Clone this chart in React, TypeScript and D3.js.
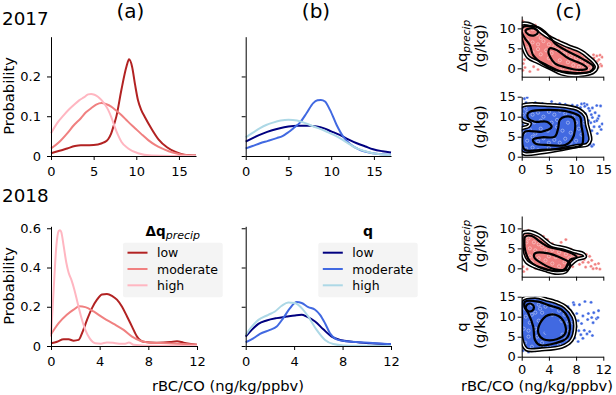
import React, { useEffect, useRef } from "react";
import * as d3 from "d3";

type Pt = [number, number];

// ---- (a)/(b) KDE curves, x = rBC/CO, y = probability ----
const dq17Low: Pt[] = [[0,0.007],[1,0.013],[1.9,0.019],[2.8,0.025],[3.5,0.027],[4.5,0.027],[5.5,0.029],[6.2,0.034],[6.7,0.042],[7.06,0.057],[7.4,0.08],[7.66,0.099],[8.25,0.166],[8.85,0.225],[9.15,0.243],[9.5,0.225],[9.85,0.18],[10.2,0.14],[10.6,0.115],[11,0.098],[11.8,0.068],[12.6,0.042],[13.6,0.022],[14.6,0.01],[15.6,0.003],[17,0.001]];
const dq17Mod: Pt[] = [[0,0.019],[1,0.036],[1.9,0.057],[2.7,0.078],[3.5,0.095],[4.1,0.11],[4.7,0.12],[5.3,0.129],[5.9,0.133],[6.5,0.13],[7.06,0.124],[7.6,0.115],[8.25,0.103],[9,0.087],[9.85,0.07],[10.6,0.055],[11.4,0.04],[12.2,0.028],[13,0.019],[13.8,0.012],[14.6,0.007],[15.5,0.003],[17,0.001]];
const dq17High: Pt[] = [[0,0.057],[0.7,0.082],[1.5,0.103],[2.1,0.117],[2.7,0.129],[3.3,0.14],[3.9,0.148],[4.36,0.155],[4.7,0.156],[5.1,0.154],[5.5,0.149],[5.9,0.141],[6.3,0.13],[6.7,0.116],[7.1,0.096],[7.46,0.074],[7.85,0.053],[8.25,0.036],[9.05,0.019],[10.2,0.007],[11.8,0.001],[14,0],[17,0]];

const q17Low: Pt[] = [[0,0.036],[1,0.047],[2.07,0.057],[3,0.064],[4,0.07],[5,0.074],[6,0.076],[7.5,0.076],[8.3,0.074],[9.1,0.07],[10,0.062],[11,0.053],[12,0.042],[13,0.032],[14,0.024],[14.9,0.017],[16,0.012],[17,0.009]];
const q17Mod: Pt[] = [[0,0.019],[0.8,0.025],[1.68,0.032],[2.6,0.038],[3.63,0.045],[4.3,0.05],[4.8,0.057],[5.2,0.063],[5.58,0.07],[6.35,0.084],[7.13,0.108],[7.9,0.133],[8.4,0.14],[8.8,0.141],[9.28,0.137],[9.86,0.116],[10.64,0.078],[11.4,0.049],[12.2,0.03],[13.4,0.015],[14.9,0.007],[17,0.003]];
const q17High: Pt[] = [[0,0.047],[0.8,0.058],[1.68,0.07],[2.4,0.078],[3.2,0.084],[4.1,0.089],[5,0.091],[6,0.089],[6.8,0.084],[7.5,0.078],[8.5,0.07],[9.5,0.061],[10.5,0.051],[11.4,0.04],[12.2,0.029],[13,0.019],[14,0.012],[14.9,0.007],[16,0.004],[17,0.002]];

const dq18Low: Pt[] = [[0,0.014],[0.5,0.022],[1.04,0.034],[1.45,0.034],[1.86,0.027],[2.27,0.031],[2.55,0.065],[2.96,0.133],[3.37,0.193],[3.78,0.236],[4.19,0.262],[4.6,0.265],[5.01,0.256],[5.42,0.236],[5.84,0.2],[6.25,0.15],[6.66,0.099],[7.07,0.048],[7.6,0.022],[8.7,0.017],[9.8,0.02],[10.36,0.024],[10.9,0.017],[12,0.007]];
const dq18Mod: Pt[] = [[0,0.06],[0.3,0.088],[0.63,0.116],[1.3,0.159],[1.86,0.185],[2.33,0.202],[2.82,0.198],[3.5,0.176],[4.33,0.142],[5.15,0.113],[5.97,0.082],[6.66,0.048],[7.34,0.027],[8.16,0.017],[9.5,0.014],[10.9,0.01],[12,0.007]];
const dq18High: Pt[] = [[0,0.048],[0.22,0.29],[0.44,0.51],[0.63,0.585],[0.75,0.59],[0.85,0.58],[1.04,0.51],[1.26,0.424],[1.45,0.373],[1.67,0.338],[1.92,0.287],[2.19,0.219],[2.47,0.15],[2.82,0.082],[3.18,0.039],[3.64,0.014],[4.1,0.012],[4.6,0.018],[5.1,0.016],[5.6,0.012],[6.1,0.012],[6.4,0.018],[6.8,0.006],[7.5,0.003],[8.5,0.001],[12,0]];

const q18Low: Pt[] = [[0,0.048],[0.5,0.082],[1.05,0.113],[1.73,0.13],[2.56,0.142],[3.39,0.15],[4.07,0.156],[4.62,0.159],[5.04,0.15],[5.73,0.125],[6.41,0.085],[7.1,0.048],[7.79,0.031],[8.89,0.021],[10.27,0.014],[12,0.009]];
const q18Mod: Pt[] = [[0,0.019],[0.63,0.039],[1.18,0.062],[2,0.082],[2.56,0.099],[3.1,0.142],[3.66,0.193],[4.21,0.224],[4.62,0.219],[5.17,0.198],[5.73,0.185],[6.14,0.159],[6.55,0.116],[6.96,0.065],[7.51,0.034],[8.34,0.024],[9.44,0.019],[10.8,0.014],[12,0.009]];
const q18High: Pt[] = [[0,0.056],[0.5,0.099],[1.05,0.133],[1.87,0.159],[2.42,0.176],[2.97,0.205],[3.52,0.222],[4.07,0.219],[4.62,0.193],[5.17,0.15],[5.86,0.082],[6.55,0.031],[7.24,0.01],[8.07,0.003],[9.5,0.001],[12,0]];

// ---- (c) scatter points (rBC/CO, g/kg) ----
const s17dq: Pt[] = [[0.5,9.5],[1.2,8.8],[2,9.8],[2.8,8.5],[3.5,7.6],[1,7],[2,6.5],[3,6],[4,6.8],[5,6],[6,5.5],[4.5,4.5],[5.5,3.8],[6.5,4.6],[7.5,4.2],[8,3.5],[9,3],[10,2.6],[11,2],[12,1.2],[8.5,1.5],[9.5,0.8],[10.5,0.4],[11.5,0.2],[7,2],[6,1.2],[5,2.5],[3.5,3.5],[2,4],[1,5],[1.5,2.8],[2.5,1.8],[4,1],[7.5,0],[9,-0.5],[10.5,-0.8],[12.5,-0.2],[13,0.5],[8,5],[6.8,6.2],[3,4.8],[0.8,3.6],[0.3,1.2],[0.6,0.2],[0.2,-0.5],[1.5,-0.8],[2.2,0.4],[3,-0.3],[1,11.2],[0.2,11.8],[2.5,10.8],[4,9.2],[5.2,8],[6.8,7],[8.2,6],[9.3,5.3],[10.5,4.5],[11.3,3.6],[12,3],[12.6,2.4],[13.3,2.6],[13.8,3.1],[14.4,3.3],[13.9,1.8],[14.5,1],[14.1,0.3],[14.7,0.6],[13.5,-0.5],[12.3,-1.2],[11,-1.5],[8.5,-1.8],[12.8,1.6],[11.8,2.8],[13.2,3.4],[14.2,2.2],[0.1,4.5],[0.5,2.2],[14.8,2.8],[13.6,1.2]];
const s17q: Pt[] = [[0.5,14.5],[0.8,13.5],[1,14.8],[1.5,13.2],[2.5,13.5],[3.8,13.3],[5.5,13.8],[7,13.3],[8,13.1],[10.2,12.8],[11,13.2],[11.5,13.3],[12,13],[10.8,12.3],[11.6,12.6],[12.5,11.5],[13,12.2],[13.8,12.8],[14.5,12.7],[12.8,10.5],[13.5,11],[14.2,10.2],[13,9.8],[14,9.5],[12.7,8.5],[13.4,8.8],[14.3,7.5],[14.6,6.8],[13.9,5.8],[12.9,6.5],[13.3,7.5],[12.3,9],[11.7,10.8],[12.2,3],[12.6,3],[13.2,3],[12.9,2.6],[0.2,10.5],[0.3,9],[0.2,8],[13.8,9],[14.8,8.2],[12.3,12.1],[9.3,12.9],[6.2,13.1],[1,11],[2,10.5],[3,11],[4,10],[5,11.2],[6,10.5],[7,11.5],[8,10.8],[9.5,10],[10,8.5],[10.5,7],[11,5.5],[10,4],[9,3.5],[8,4.5],[7,3.5],[6,4.2],[5,3.5],[4,4.6],[3,3.8],[2,5],[1,4],[0.5,6],[1.5,6.8],[2.5,5.8],[3.5,7],[4.8,6.5],[5.5,8.5],[6.5,7.5],[7.5,6.5],[8.5,8.5],[9,6],[8,2.5],[5,2.2],[2,2.3],[0.8,2],[1.2,1.2],[3,1.6],[11.5,8.5],[11.3,10.5],[6.5,9.2],[0.7,12],[3.5,9],[2.3,8.6]];
const s18dq: Pt[] = [[0.5,8],[1,7.5],[1.5,8.3],[0.7,6.5],[1.8,6.5],[2.5,6],[3,5.5],[1.2,5],[2,4.5],[0.5,4],[3.5,4.5],[4.5,4.6],[5.5,4],[6.5,3.5],[7.5,3.2],[8.2,3],[1.2,3],[2.5,2.5],[3.5,2],[4.5,1.2],[5.5,0.5],[6.3,1.5],[4,3],[5,2.8],[0.3,2.5],[1.5,1.5],[3,0.5],[4.5,-0.5],[6,-0.6],[2.2,7.5],[0.3,5.5],[7,2.5],[0.3,9.3],[1,9.5],[0.5,9],[1.6,9.2],[3.2,8],[3.8,7.2],[4.5,6.2],[5.8,6.5],[6.5,7.2],[6,5.2],[7.2,4.8],[8,4.2],[8.8,3.8],[9.5,3.5],[10,3],[9.2,2.2],[9.8,1.5],[10.3,2],[10.8,1],[10.2,0.5],[11,0],[10.5,-0.1],[9.4,0.3],[8.5,1],[8.8,2.6],[11.3,1.2],[7.8,1.8],[0.2,0.4],[0.8,-0.2],[0.3,-0.8],[2,0],[7.5,0.4],[11.5,-0.2],[9,1.5]];
const s18q: Pt[] = [[7.6,13.5],[9.3,13.8],[10.2,13.6],[8.5,13],[11.3,11.5],[10.6,11],[9.8,10.8],[9,10.2],[10.3,9.8],[11,9.5],[9.7,9.3],[8.3,9],[8.8,8.3],[10.5,8.5],[8,7.5],[8.4,6.5],[9.2,6.6],[10,6.3],[9.6,5.7],[8.7,5.5],[10.4,5.3],[9,4.6],[7.8,4.7],[8.3,3.8],[7.7,13],[6.8,12.5],[5.5,13.5],[4.5,14],[3.5,14.5],[2,14.8],[0.3,14.6],[7.2,11.5],[8.1,10.8],[7.5,8.5],[0.2,1.5],[1,1.2],[2,1.5],[11.2,9.8],[7,3.3],[0.5,12],[1.5,13],[2.5,13],[3.5,12.5],[4.5,12.5],[5.5,11.5],[6.3,10.5],[6.8,8.5],[7,6.5],[6.5,4.5],[5.5,3],[4,2.5],[3,2.4],[1.5,2.5],[0.5,3.5],[1,5],[0.3,7],[1.2,8.5],[0.6,10],[2,11],[2.5,9],[2,7],[2.3,5],[3,3.5],[4.3,8],[5,6.5],[3.5,6],[4.5,10.5],[5.8,9],[6,5.5],[1.5,10.5],[3,11],[1,6.5],[2.7,12]];

// ---- (c) density contour rings, data coordinates ----
const c17dqOuter: Pt[] = [[-0.3,10.9],[1,11.2],[2.4,10.4],[3.7,9],[4.9,7.9],[6.2,7],[7.35,6.25],[8.8,5.4],[10.4,4.6],[11.4,3.8],[12.2,2.9],[13.2,1.7],[13.8,0.4],[13.2,-0.85],[11.5,-1.6],[9.8,-1.8],[7.35,-1.3],[5.5,-0.1],[3.05,1.5],[1.2,2.8],[0.3,5.2],[-0.3,8.5]];
const c17dqInner: Pt[][] = [
  [[0.3,10.4],[3.05,10.25],[4.9,8.3],[6.1,6.25],[8.6,4.15],[11,2.5],[13.2,0.4],[12.55,-0.85],[9.2,-1.1],[6.1,-0.4],[3.7,1.25],[2.1,3.3],[1.5,5.8],[0.6,7.5],[0,9.15]],
  [[5.2,5],[6.4,4.6],[8.6,2.5],[11.4,0.8],[12,0],[10.5,-0.4],[8,0.25],[6.1,1.25],[5.2,2.9],[4.9,4.15]],
  [[0.7,9.4],[1.5,10],[2.6,9.8],[3.0,9.1],[2.4,8.3],[1.3,8.4]],
];
const c17qOuter: Pt[] = [[-0.3,12.4],[0.8,13],[2.5,13.1],[5,12.9],[8,12.6],[10.4,11.8],[11.7,10.2],[12,8],[12.4,6],[12.6,4.2],[12,3],[10.4,2.7],[7.4,1.9],[3.7,1.1],[0.6,0.7],[-0.3,1.5],[-0.3,6.8],[1.2,7.6],[1.5,8.3],[0.2,9],[-0.3,10]];
const c17qInner: Pt[][] = [
  [[1.5,11.25],[4.9,11.7],[8.6,11.25],[10.7,10],[11,7.5],[11.3,5],[11,2.9],[8,2.1],[3.7,1.7],[0.6,1.7],[0.1,4.2],[0.6,6.25],[3.7,6.25],[5.5,7.5],[4.6,8.75],[2.45,8.75],[1.2,9.6],[1.1,10.7]],
  [[8,10],[9.5,9.6],[9.8,6.7],[9.2,4.2],[8,2.9],[4.9,2.9],[2.45,3.35],[2.1,4.3],[3.7,4.85],[6.1,5],[6.7,7.1],[7.0,9.2]],
];
const c18dqOuter: Pt[] = [[0.1,8.75],[1,9.15],[2.45,8.3],[3.4,7.1],[4.4,5.8],[6.4,5],[7.85,4.15],[9.05,3.6],[9.3,2.9],[8.1,2.25],[7.1,0.8],[6.4,-0.85],[4.9,-1.1],[3.4,-0.4],[1.95,0.4],[0.7,1.65],[0.1,3.75],[0,6.25]];
const c18dqInner: Pt[][] = [
  [[0.5,7.9],[1.5,8.1],[2.7,6.65],[3.9,5.4],[5.9,4.6],[7.35,3.75],[8.1,2.75],[7.1,2.1],[6.3,-0.2],[4.9,-0.7],[2.95,0],[1.2,1.8],[0.5,4.6],[0.4,6.65]],
  [[1.95,3.75],[3.9,3.75],[5.9,2.5],[7.1,1.25],[6.85,-0.25],[4.9,-0.25],[2.95,1.25],[1.85,2.75]],
];
const c18qOuter: Pt[] = [[0,14.2],[1.95,15],[3.9,14.2],[5.4,13.4],[6.4,12.5],[7.6,10],[7.85,7.5],[7.35,4.2],[5.9,2.5],[2.95,1.85],[0.7,1.85],[0,4.2],[-0.1,10]];
const c18qInner: Pt[][] = [
  [[0.5,13.75],[2.45,13.75],[3.9,12.9],[5.9,11.7],[6.85,9.6],[7.1,7.1],[6.6,4.6],[4.9,3.35],[2.7,2.9],[1.95,4.2],[1.7,7.5],[0.97,10.85],[0.4,12.5]],
  [[3.9,10.4],[5.4,10.2],[6.3,8.35],[6.4,5.85],[5.15,4.35],[3.2,4.35],[2.45,5.85],[2.7,8.35]],
  [[0.6,12.3],[0.78,13.0],[1.2,13.3],[1.62,13.0],[1.8,12.3],[1.62,11.6],[1.2,11.3],[0.78,11.6]],
];
const c18qCore: Pt[] = [[3.7,9.2],[5.15,9.6],[5.9,7.5],[5.4,5.4],[3.7,5.4],[3.2,7.3]];

// ---- ticks & labels ----
const xTicks17 = [0, 5, 10, 15];
const xTicks18 = [0, 4, 8, 12];
const probTicks17 = [0, 0.1, 0.2];
const probTicks18 = [0, 0.2, 0.4, 0.6];
const dqTicks = [0, 5, 10];
const qTicks = [0, 5, 10, 15];
const levels = ["low", "moderate", "high"];

const REDS = ["#b22222", "#f08080", "#ffb6c1"];
const BLUES = ["#000080", "#4169e1", "#add8e6"];
const FONT = "DejaVu Sans";

let clipId = 0;

function axes(svg: any, x: any, y: any, xt: number[], yt: number[], showX: boolean, showY: boolean, xPad: number, yPad: number) {
  const gx = svg.append("g")
    .attr("transform", `translate(0,${y.range()[0]})`)
    .call(d3.axisBottom(x).tickValues(xt).tickSize(4).tickSizeOuter(0).tickPadding(xPad)
      .tickFormat((d: any) => (showX ? String(d) : "")));
  const gy = svg.append("g")
    .attr("transform", `translate(${x.range()[0]},0)`)
    .call(d3.axisLeft(y).tickValues(yt).tickSize(4).tickSizeOuter(0).tickPadding(yPad)
      .tickFormat((d: any) => (showY ? String(d) : "")));
  [gx, gy].forEach((g) => {
    g.attr("font-family", FONT).attr("font-size", 13);
    g.selectAll("text").attr("fill", "#000");
  });
}

function kdePanel(svg: any, xr: number[], yr: number[], xd: number[], yd: number[], xt: number[], yt: number[], showY: boolean, series: Pt[][], colors: string[]) {
  const x = d3.scaleLinear().domain(xd).range(xr);
  const y = d3.scaleLinear().domain(yd).range(yr);
  const line = d3.line<Pt>().x((d) => x(d[0])).y((d) => y(d[1])).curve(d3.curveMonotoneX);
  series.forEach((s, i) => {
    svg.append("path").datum(s).attr("fill", "none").attr("stroke", colors[i])
      .attr("stroke-width", 2).attr("d", line);
  });
  axes(svg, x, y, xt, yt, true, showY, 7, 6);
}

function densityPanel(svg: any, xr: number[], yr: number[], xd: number[], yd: number[], xt: number[], yt: number[], showX: boolean, color: string, pts: Pt[], outer: Pt[], inner: Pt[][], core?: Pt[]) {
  const x = d3.scaleLinear().domain(xd).range(xr);
  const y = d3.scaleLinear().domain(yd).range(yr);
  const ring = d3.line<Pt>().x((d) => x(d[0])).y((d) => y(d[1])).curve(d3.curveCatmullRomClosed.alpha(0.5));
  const id = `clip${clipId++}`;
  svg.append("clipPath").attr("id", id).append("rect")
    .attr("x", xr[0]).attr("y", yr[1]).attr("width", xr[1] - xr[0]).attr("height", yr[0] - yr[1]);
  const g = svg.append("g").attr("clip-path", `url(#${id})`);
  g.append("path").datum(outer).attr("fill", color).attr("d", ring);
  g.selectAll(".pt").data(pts).enter().append("circle")
    .attr("cx", (d: Pt) => x(d[0])).attr("cy", (d: Pt) => y(d[1])).attr("r", 1.6)
    .attr("fill", color).attr("stroke", "#fff").attr("stroke-width", 0.4);
  if (core) g.append("path").datum(core).attr("fill", color).attr("d", ring);
  g.append("path").datum(outer).attr("fill", "none").attr("stroke", "#000").attr("stroke-width", 4.4).attr("d", ring);
  g.append("path").datum(outer).attr("fill", "none").attr("stroke", "#fff").attr("stroke-width", 1.3).attr("d", ring);
  inner.forEach((r) => {
    g.append("path").datum(r).attr("fill", "none").attr("stroke", "#000").attr("stroke-width", 2.2).attr("d", ring);
  });
  axes(svg, x, y, xt, yt, showX, true, 4.5, 2);
}

function legend(svg: any, bx: number, by: number, bw: number, bh: number, title: (t: any) => void, colors: string[]) {
  svg.append("rect").attr("x", bx).attr("y", by).attr("width", bw).attr("height", bh)
    .attr("fill", "#f4f4f4").attr("rx", 2);
  const t = svg.append("text").attr("x", bx + bw / 2).attr("y", by - 7).attr("text-anchor", "middle");
  title(t);
  levels.forEach((lab, i) => {
    const yy = by + 10 + i * 16.3;
    svg.append("line").attr("x1", bx + 4.5).attr("x2", bx + 24.5).attr("y1", yy).attr("y2", yy)
      .attr("stroke", colors[i]).attr("stroke-width", 2);
    svg.append("text").attr("x", bx + 34).attr("y", yy + 4.5).attr("font-size", 12.5).text(lab);
  });
}

function yLabel2(svg: any, cx: number, cy: number, first: (t: any) => void) {
  const t1 = svg.append("text").attr("transform", `translate(${cx},${cy}) rotate(-90)`)
    .attr("text-anchor", "middle").attr("font-size", 14.7);
  first(t1);
  svg.append("text").attr("transform", `translate(${cx + 18},${cy}) rotate(-90)`)
    .attr("text-anchor", "middle").attr("font-size", 14.7).text("(g/kg)");
}

const App = () => {
  const ref = useRef<SVGSVGElement>(null);

  useEffect(() => {
    const svg = d3.select(ref.current);
    svg.selectAll("*").remove();
    clipId = 0;

    // titles
    svg.append("text").attr("x", 2).attr("y", 25).attr("font-size", 18.3).text("2017");
    svg.append("text").attr("x", 2).attr("y", 202).attr("font-size", 18.3).text("2018");
    [["(a)", 130.5], ["(b)", 316], ["(c)", 568.5]].forEach(([s, xx]) => {
      svg.append("text").attr("x", xx).attr("y", 17.5).attr("text-anchor", "middle").attr("font-size", 20).text(s as string);
    });

    // (a), (b) 2017
    kdePanel(svg, [51, 196], [156, 36.7], [0, 17], [0, 0.3], xTicks17, probTicks17, true, [dq17Low, dq17Mod, dq17High], REDS);
    kdePanel(svg, [245.7, 391], [156, 36.7], [0, 17], [0, 0.3], xTicks17, probTicks17, false, [q17Low, q17Mod, q17High], BLUES);
    // (a), (b) 2018
    kdePanel(svg, [51, 197], [346, 226.3], [0, 12], [0, 0.61], xTicks18, probTicks18, true, [dq18Low, dq18Mod, dq18High], REDS);
    kdePanel(svg, [245.7, 391], [346, 226.3], [0, 12], [0, 0.61], xTicks18, probTicks18, false, [q18Low, q18Mod, q18High], BLUES);

    // (c)
    densityPanel(svg, [521.7, 603.3], [76.7, 16], [0, 15], [-2.1, 13.1], xTicks17, dqTicks, false, "#f08080", s17dq, c17dqOuter, c17dqInner);
    densityPanel(svg, [521.7, 603.3], [156.7, 96.7], [0, 15], [0, 15], xTicks17, qTicks, true, "#4169e1", s17q, c17qOuter, c17qInner);
    densityPanel(svg, [521.7, 603.3], [276.7, 216], [0, 12], [-2.1, 13.1], xTicks18, dqTicks, false, "#f08080", s18dq, c18dqOuter, c18dqInner);
    densityPanel(svg, [521.7, 603.3], [356.7, 296.7], [0, 12], [0, 15], xTicks18, qTicks, true, "#4169e1", s18q, c18qOuter, c18qInner, c18qCore);

    // axis labels
    [96, 286].forEach((cy) => {
      svg.append("text").attr("transform", `translate(13.5,${cy}) rotate(-90)`)
        .attr("text-anchor", "middle").attr("font-size", 14.7).text("Probability");
    });
    svg.append("text").attr("x", 228).attr("y", 390.5).attr("text-anchor", "middle").attr("font-size", 14.7).text("rBC/CO (ng/kg/ppbv)");
    svg.append("text").attr("x", 537).attr("y", 390.5).attr("text-anchor", "middle").attr("font-size", 14.7).text("rBC/CO (ng/kg/ppbv)");

    const dqLabel = (t: any) => {
      t.append("tspan").text("Δq");
      t.append("tspan").attr("font-style", "italic").attr("font-size", 10.5).attr("dy", 3).text("precip");
    };
    const qLabel = (t: any) => t.text("q");
    yLabel2(svg, 467, 46, dqLabel);
    yLabel2(svg, 467, 127, qLabel);
    yLabel2(svg, 467, 246, dqLabel);
    yLabel2(svg, 467, 327, qLabel);

    // legends
    legend(svg, 123, 242.7, 99.7, 54.6, (t: any) => {
      t.append("tspan").attr("font-weight", "bold").attr("font-size", 13.5).text("Δq");
      t.append("tspan").attr("font-style", "italic").attr("font-size", 11).attr("dy", 3).text("precip");
    }, REDS);
    legend(svg, 318.3, 242.7, 99.4, 54.6, (t: any) => {
      t.append("tspan").attr("font-weight", "bold").attr("font-size", 14).text("q");
    }, BLUES);
  }, []);

  return (
    <svg ref={ref} width={616} height={395} fontFamily={FONT}
      style={{ position: "absolute", left: 0, top: 0, background: "#fff" }} />
  );
};

export default App;
